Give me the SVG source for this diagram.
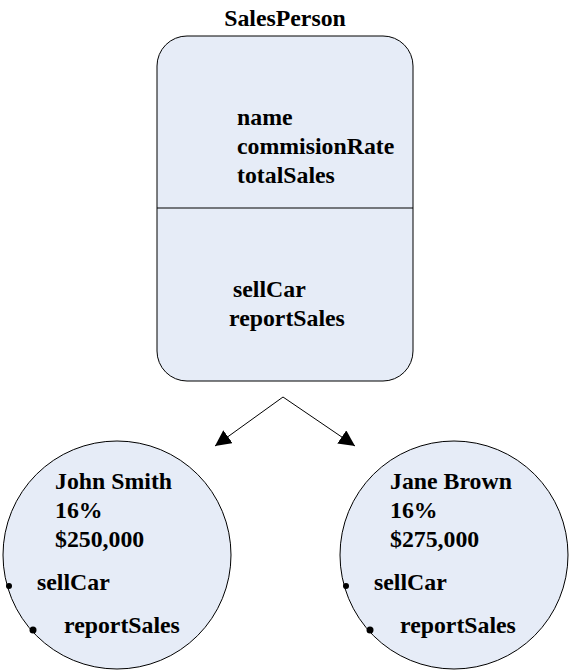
<svg xmlns="http://www.w3.org/2000/svg" width="571" height="670" viewBox="0 0 571 670">
<style>
text{font-family:"Liberation Serif","Times New Roman",serif;font-weight:bold;font-size:23.8px;fill:#000}
.shape{fill:#E6ECF7;stroke:#000;stroke-width:1}
.conn{stroke:#000;stroke-width:1;fill:none}
.dot{fill:#000}
</style>
<defs>
<marker id="arr" viewBox="0 0 10 10" refX="10" refY="5" markerWidth="16" markerHeight="16" markerUnits="userSpaceOnUse" orient="auto">
<path d="M0,0 L10,5 L0,10 z" fill="#000"/>
</marker>
</defs>
<g id="SalesPerson">
<text x="285" y="26" text-anchor="middle">SalesPerson</text>
<rect class="shape" x="157" y="36" width="256" height="345" rx="30" ry="30"/>
<line x1="157" y1="208" x2="413" y2="208" stroke="#000"/>
<text x="237" y="125">name</text>
<text x="237" y="154">commisionRate</text>
<text x="237" y="183">totalSales</text>
<text x="233" y="297">sellCar</text>
<text x="229" y="326">reportSales</text>
</g>
<g id="connectors">
<path class="conn" d="M283,397 L215,446" marker-end="url(#arr)"/>
<path class="conn" d="M283,397 L355,446" marker-end="url(#arr)"/>
</g>
<g id="JohnSmith">
<circle class="shape" cx="117" cy="555" r="114"/>
<text x="55" y="489">John Smith</text>
<text x="55" y="518">16%</text>
<text x="55" y="547">$250,000</text>
<text x="37" y="590">sellCar</text>
<text x="64" y="633">reportSales</text>
<circle class="dot" cx="9" cy="586" r="3"/>
<circle class="dot" cx="33" cy="630" r="3.5"/>
</g>
<g id="JaneBrown">
<circle class="shape" cx="454" cy="555" r="114"/>
<text x="390" y="489">Jane Brown</text>
<text x="390" y="518">16%</text>
<text x="390" y="547">$275,000</text>
<text x="374" y="590">sellCar</text>
<text x="400" y="633">reportSales</text>
<circle class="dot" cx="346" cy="586" r="3"/>
<circle class="dot" cx="370" cy="630" r="3.5"/>
</g>
</svg>
